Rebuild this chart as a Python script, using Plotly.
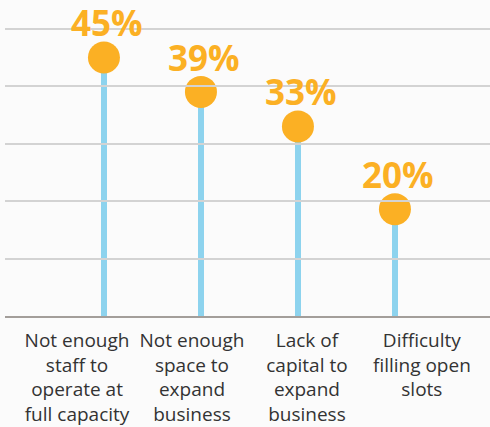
import plotly.graph_objects as go

categories = ["staff", "space", "capital", "slots"]
tick_labels = [
    "Not enough<br>staff to<br>operate at<br>full capacity",
    "Not enough<br>space to<br>expand<br>business",
    "Lack of<br>capital to<br>expand<br>business",
    "Difficulty<br>filling open<br>slots",
]
values = [45, 39, 33, 18.6]
value_labels = ["45%", "39%", "33%", "20%"]

ORANGE = "#fbb024"
BLUE = "#8dd3ee"
BG = "#fbfbfb"

fig = go.Figure()
fig.add_trace(go.Bar(
    x=categories, y=values, width=0.056,
    marker=dict(color=BLUE, line=dict(width=0)),
    hoverinfo="skip", showlegend=False,
))
fig.add_trace(go.Scatter(
    x=categories, y=values, mode="markers",
    marker=dict(size=32, color=ORANGE, line=dict(width=0)),
    cliponaxis=False, showlegend=False,
))
# invisible trace that carries the wrapped category labels
fig.add_trace(go.Scatter(
    x=tick_labels, y=[None] * len(tick_labels), xaxis="x2",
    mode="markers", marker=dict(opacity=0), showlegend=False, hoverinfo="skip",
))

for cat, val, lab in zip(categories, values, value_labels):
    fig.add_annotation(
        x=cat, y=val, xref="x", yref="y", text=lab, showarrow=False,
        yanchor="bottom", xanchor="center", yshift=9, xshift=3,
        font=dict(family="Open Sans", size=35, color=ORANGE, weight="bold"),
    )

fig.update_layout(
    width=490, height=427,
    margin=dict(l=5, r=0, t=0, b=111),
    paper_bgcolor=BG, plot_bgcolor="rgba(0,0,0,0)",
    font=dict(family="Open Sans", color="#333333"),
    bargap=0,
    xaxis=dict(
        type="category", range=[-1.02, 3.98],
        showticklabels=False, showgrid=False, zeroline=False,
        showline=True, linecolor="#a39e9a", linewidth=2, ticks="",
    ),
    xaxis2=dict(
        type="category", anchor="y", domain=[0.03, 0.978],
        range=[-0.5, 3.5], showgrid=False, zeroline=False, showline=False,
        ticks="", tickfont=dict(family="Open Sans", size=19, color="#333333"),
        tickangle=0, ticklabelstandoff=11,
    ),
    yaxis=dict(
        range=[0, 55], dtick=10, showticklabels=False,
        showgrid=True, gridcolor="#d3d3d3", gridwidth=2, zeroline=False,
    ),
)

fig.write_html("out.html")
